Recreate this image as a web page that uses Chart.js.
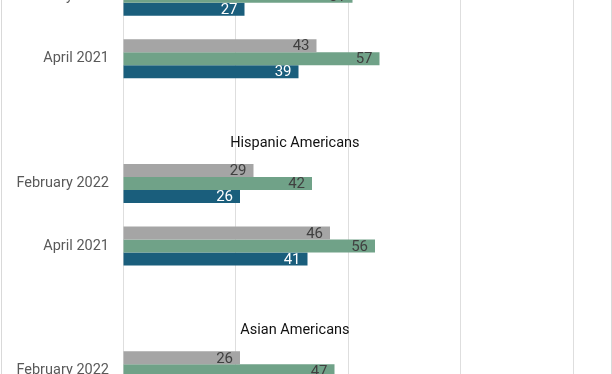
<!DOCTYPE html>
<html>
<head>
<meta charset="utf-8">
<script src="https://cdn.jsdelivr.net/npm/chart.js@4"></script>
<style>
  html, body { margin: 0; padding: 0; background: #fff; }
  #wrap { position: relative; width: 612px; height: 374px; overflow: hidden; }
  #wrap canvas { position: absolute; left: 0; top: -35px; }
  .edge { position: absolute; top: 0; width: 1px; height: 374px; background: #d9d9d9; }
</style>
</head>
<body>
<div id="wrap">
  <canvas id="chart" width="612" height="437"></canvas>
  <div class="edge" style="left:1px"></div>
  <div class="edge" style="left:611px"></div>
</div>
<script>
// rows from top; empty rows hold the section headings
const categories    = ["February 2022", "April 2021", "", "February 2022", "April 2021", "", "February 2022"];
const sectionTitles = ["", "", "Hispanic Americans", "", "", "Asian Americans", ""];
const seriesGray    = [null, 43, null, 29, 46, null, 26];
const seriesGreen   = [51, 57, null, 42, 56, null, 47];
const seriesBlue    = [27, 39, null, 26, 41, null, null];
const xTicks        = [0, 25, 50, 75, 100];

const FONT = "Roboto, 'Noto Sans', sans-serif";
const LABEL_COLORS = ["#404040", "#404040", "#ffffff"];

// value labels at the inner end of each bar
const valueLabels = {
  id: "valueLabels",
  afterDatasetsDraw(chart) {
    const { ctx } = chart;
    ctx.save();
    ctx.font = `15px ${FONT}`;
    ctx.textAlign = "right";
    ctx.textBaseline = "middle";
    chart.data.datasets.forEach((ds, di) => {
      const meta = chart.getDatasetMeta(di);
      ctx.fillStyle = LABEL_COLORS[di];
      meta.data.forEach((bar, i) => {
        const v = ds.data[i];
        if (v == null) return;
        ctx.fillText(String(v), bar.x - 7, bar.y + 1);
      });
    });
    ctx.restore();
  },
};

// group headings drawn inside the empty rows
const sectionHeads = {
  id: "sectionHeads",
  afterDatasetsDraw(chart) {
    const { ctx, scales: { x, y } } = chart;
    const step = y.getPixelForValue(1) - y.getPixelForValue(0);
    ctx.save();
    ctx.font = `14.5px ${FONT}`;
    ctx.fillStyle = "#111111";
    ctx.textAlign = "center";
    ctx.textBaseline = "middle";
    sectionTitles.forEach((t, i) => {
      if (!t) return;
      ctx.fillText(t, x.getPixelForValue(38.2), y.getPixelForValue(i) + step * 0.36);
    });
    ctx.restore();
  },
};

new Chart(document.getElementById("chart"), {
  type: "bar",
  data: {
    labels: categories,
    datasets: [
      { label: "gray",  data: seriesGray,  backgroundColor: "#a5a5a5" },
      { label: "green", data: seriesGreen, backgroundColor: "#70a288" },
      { label: "blue",  data: seriesBlue,  backgroundColor: "#1a5e7c" },
    ],
  },
  options: {
    indexAxis: "y",
    responsive: false, animation: false,
    categoryPercentage: 0.625, barPercentage: 1,
    layout: { padding: { left: 0, right: 39, top: 0, bottom: 0 } },
    plugins: { legend: { display: false }, tooltip: { enabled: false } },
    scales: {
      x: {
        min: 0, max: 100,
        afterBuildTicks: s => { s.ticks = xTicks.map(v => ({ value: v })); },
        afterFit: s => { s.height = 0; s.paddingLeft = 0; s.paddingRight = 0; },
        grid: { color: "#dedede", drawTicks: false },
        border: { display: false },
        ticks: { display: false },
      },
      y: {
        afterFit: s => { s.width = 123; s.paddingTop = 0; s.paddingBottom = 0; },
        grid: { display: false, drawTicks: false },
        border: { display: false },
        ticks: { color: "#595959", font: { size: 14.5, family: FONT }, padding: 14 },
      },
    },
  },
  plugins: [valueLabels, sectionHeads],
});
</script>
</body>
</html>
